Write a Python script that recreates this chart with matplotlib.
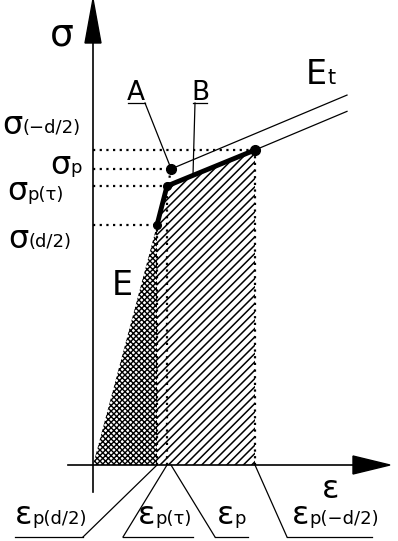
import matplotlib
matplotlib.use('Agg')
import matplotlib.pyplot as plt
import numpy as np

plt.rcParams['font.family'] = ['DejaVu Sans']

# strain / stress points of the bilinear diagram (drawing units)
eps_d2, sig_d2 = 64, 240      # (d/2)
eps_tau, sig_tau = 74, 279    # p(tau)
eps_p, sig_p = 78, 296        # p  (point A)
eps_md2, sig_md2 = 162, 315   # (-d/2)
Et = 0.42                     # slope of the E_t branch
eps_end = 254                 # where the E_t lines stop

fig = plt.figure(figsize=(3.98, 5.41), dpi=100)
ax = fig.add_axes([0, 0, 1, 1])
ax.set_xlim(-93, 305)
ax.set_ylim(-76, 465)
ax.axis('off')

# hatched areas
plt.rcParams['hatch.linewidth'] = 1.0
ax.fill([0, eps_d2, eps_d2], [0, sig_d2, 0], facecolor='white',
        edgecolor='black', hatch='xxxxxx', linewidth=0)
plt.rcParams['hatch.linewidth'] = 1.1
ax.fill([eps_d2, eps_d2, eps_tau, eps_md2, eps_md2],
        [0, sig_d2, sig_tau, sig_md2, 0], facecolor='white',
        edgecolor='black', hatch='////', linewidth=0)

# axes with arrows
ax.plot([0, 0], [-27, 425], color='black', lw=1.2)
ax.plot([-25, 262], [0, 0], color='black', lw=1.2)
ax.fill([-8, 8, 0], [422, 422, 466], color='black')
ax.fill([260, 260, 297], [-9, 9, 0], color='black')

# dotted guide lines
dots = dict(color='black', lw=1.6, ls=(0, (1, 2)))
for e, s in [(eps_d2, sig_d2), (eps_tau, sig_tau), (eps_p, sig_p), (eps_md2, sig_md2)]:
    ax.plot([0, e], [s, s], **dots)
for e, s in [(eps_d2, sig_d2), (eps_tau, sig_tau), (eps_md2, sig_md2)]:
    ax.plot([e, e], [0, s], **dots)
ax.plot([eps_p, eps_tau + 1], [sig_p, sig_tau], **dots)

# E_t lines
ax.plot([eps_p, eps_end], [sig_p, sig_p + Et * (eps_end - eps_p)], color='black', lw=0.9)
ax.plot([eps_md2, eps_end], [sig_md2, sig_md2 + Et * (eps_end - eps_md2)], color='black', lw=0.9)

# bold path
ax.plot([eps_d2, eps_tau, eps_md2], [sig_d2, sig_tau, sig_md2], color='black', lw=3.5,
        solid_joinstyle='round')
ax.plot([eps_d2, eps_tau], [sig_d2, sig_tau], 'o', color='black', ms=5.5)
ax.plot([eps_p, eps_md2], [sig_p, sig_md2], 'o', color='black', ms=7)

big = 23
small = 13
thin = dict(color='black', lw=0.9)


def sym(x, y, base, sub, xs):
    ax.text(x, y, base, fontsize=big, ha='left', va='center')
    ax.text(xs, y - 3, sub, fontsize=small, ha='left', va='center')


# stress labels
ax.text(-43, 430, 'σ', fontsize=big + 4, ha='left', va='center')
sym(-91, 340, 'σ', '(−d/2)', -71)
sym(-43, 300, 'σ', 'p', -23)
sym(-86, 273, 'σ', 'p(τ)', -66)
sym(-85, 226, 'σ', '(d/2)', -64)

# strain labels with leaders
ax.text(229, -25, 'ε', fontsize=big, ha='left', va='center')
for xe, x0, x1, sub, tgt in [(-78, -78, -10, 'p(d/2)', eps_d2),
                             (45, 30, 100, 'p(τ)', eps_tau),
                             (124, 122, 155, 'p', eps_p),
                             (199, 194, 279, 'p(−d/2)', eps_md2)]:
    sym(xe, -51, 'ε', sub, xe + 17)
    ax.plot([x0, x1], [-72, -72], **thin)
    if x1 < tgt:
        ax.plot([x1, tgt], [-72, 0], **thin)
    else:
        ax.plot([x0, tgt], [-72, 0], **thin)

# A, B, E, Et
ax.text(43, 365, 'A', fontsize=19, ha='center', va='baseline')
ax.plot([35, 52], [362, 362], **thin)
ax.plot([52, eps_p - 1], [362, sig_p + 3], **thin)
ax.text(107, 365, 'B', fontsize=19, ha='center', va='baseline')
ax.plot([100, 114], [362, 362], **thin)
ax.plot([102, 100], [362, 290], **thin)
ax.text(19, 170, 'E', fontsize=24, ha='left', va='baseline')
ax.text(213, 381, 'E', fontsize=24, ha='left', va='baseline')
ax.text(235, 381, 't', fontsize=15, ha='left', va='baseline')

fig.savefig('out.png', dpi=100)
